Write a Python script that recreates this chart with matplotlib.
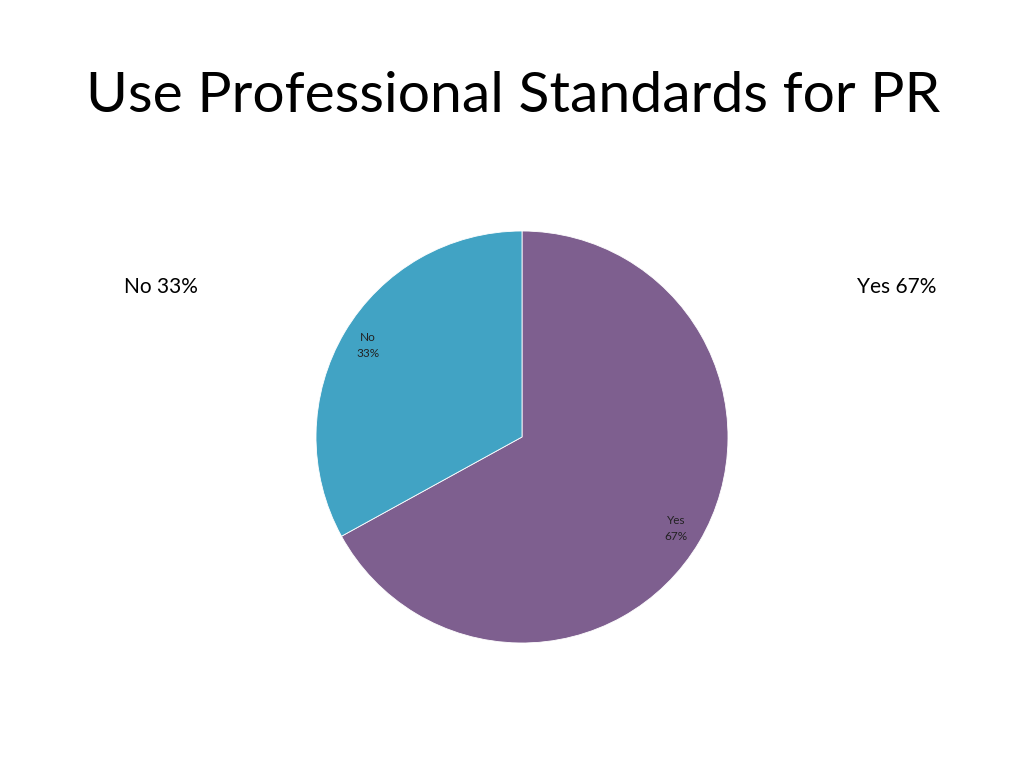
import matplotlib.pyplot as plt

plt.rcParams['font.family'] = ['Lato', 'DejaVu Sans']

labels = ['Yes', 'No']
values = [67, 33]
colors = ['#7E5F8F', '#41A3C4']
title = 'Use Professional Standards for PR'

fig = plt.figure(figsize=(10.24, 7.68), dpi=100)
fig.patch.set_facecolor('white')

# pie centred at (522, 437) px, radius 206 px
cx, cy, r = 522, 437, 206
ax = fig.add_axes([(cx - r) / 1024, (768 - cy - r) / 768, 2 * r / 1024, 2 * r / 768])
inner = [l + '\n' + str(v) + '%' for l, v in zip(labels, values)]
wedges, texts = ax.pie(values, colors=colors, startangle=90, counterclock=False,
                       labels=inner, labeldistance=0.87,
                       wedgeprops={'edgecolor': 'white', 'linewidth': 0.6},
                       textprops={'fontsize': 8.5, 'color': '#222222',
                                  'ha': 'center', 'va': 'center', 'linespacing': 1.6})
ax.set_xlim(-1, 1)
ax.set_ylim(-1, 1)
ax.set_aspect('equal')
ax.axis('off')

fig.text(513 / 1024, 1 - 97 / 768, title, fontsize=41, ha='center', va='center', color='black')
fig.text(161 / 1024, 1 - 287 / 768, labels[1] + ' ' + str(values[1]) + '%', fontsize=15,
         ha='center', va='center')
fig.text(897 / 1024, 1 - 287 / 768, labels[0] + ' ' + str(values[0]) + '%', fontsize=15,
         ha='center', va='center')

fig.savefig('out.png', dpi=100, facecolor='white')
